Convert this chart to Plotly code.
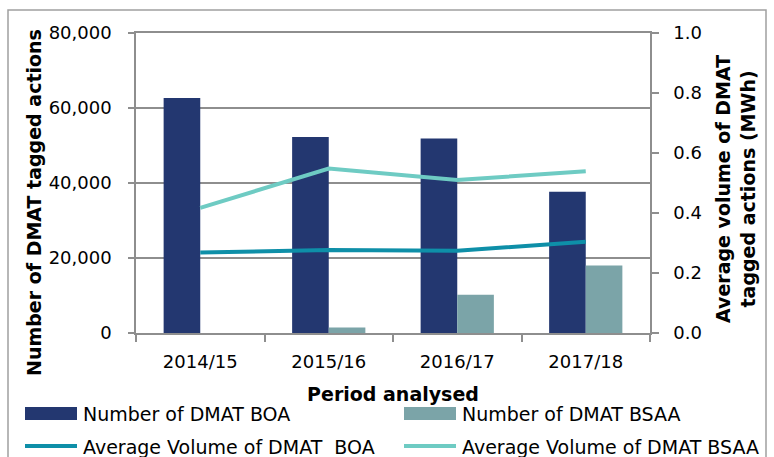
import plotly.graph_objects as go

# data
periods = ["2014/15", "2015/16", "2016/17", "2017/18"]
count_boa = [62700, 52300, 51900, 37700]
count_bsaa = [0, 1500, 10200, 18000]
avg_vol_boa = [0.268, 0.277, 0.274, 0.304]
avg_vol_bsaa = [0.417, 0.548, 0.510, 0.539]

legend_labels = ["Number of DMAT BOA", "Number of DMAT BSAA",
                 "Average Volume of DMAT  BOA", "Average Volume of DMAT BSAA"]

NAVY = "#233770"
GREY_TEAL = "#7BA4A8"
TEAL = "#0E8FA8"
AQUA = "#6ECBC3"
GRID = "#8E8E8E"
FONT = "DejaVu Sans"
FS = 19
TICK_FS = 18

W, H = 774, 457
L, R, T, B = 136, 124, 33, 124


def px_x(x):
    """pixel x -> paper x"""
    return (x - L) / (W - L - R)


def px_y(y):
    """pixel y (from top) -> paper y"""
    return (H - B - y) / (H - T - B)


fig = go.Figure()
fig.add_trace(go.Bar(x=periods, y=count_boa, name=legend_labels[0],
                     marker=dict(color=NAVY, line=dict(width=0))))
fig.add_trace(go.Bar(x=periods, y=count_bsaa, name=legend_labels[1],
                     marker=dict(color=GREY_TEAL, line=dict(width=0))))
fig.add_trace(go.Scatter(x=periods, y=avg_vol_boa, name=legend_labels[2], yaxis="y2",
                         mode="lines", line=dict(color=TEAL, width=4)))
fig.add_trace(go.Scatter(x=periods, y=avg_vol_bsaa, name=legend_labels[3], yaxis="y2",
                         mode="lines", line=dict(color=AQUA, width=4)))

# hand-made legend so the swatches look like the original
shapes = [
    # outer frame
    dict(type="rect", xref="paper", yref="paper",
         x0=px_x(8), x1=px_x(766), y0=px_y(480), y1=px_y(10),
         line=dict(color="#A0A0A0", width=1.5), fillcolor="rgba(0,0,0,0)", layer="below"),
    dict(type="rect", xref="paper", yref="paper",
         x0=px_x(25), x1=px_x(77), y0=px_y(420), y1=px_y(407),
         line=dict(width=0), fillcolor=NAVY),
    dict(type="rect", xref="paper", yref="paper",
         x0=px_x(404), x1=px_x(456), y0=px_y(420), y1=px_y(407),
         line=dict(width=0), fillcolor=GREY_TEAL),
    dict(type="line", xref="paper", yref="paper",
         x0=px_x(25), x1=px_x(77), y0=px_y(446), y1=px_y(446),
         line=dict(color=TEAL, width=4)),
    dict(type="line", xref="paper", yref="paper",
         x0=px_x(404), x1=px_x(456), y0=px_y(446), y1=px_y(446),
         line=dict(color=AQUA, width=4)),
]

annotations = []
for label, (x, y) in zip(legend_labels, [(81, 414), (460, 414), (81, 447), (460, 447)]):
    annotations.append(dict(text=label, xref="paper", yref="paper",
                            x=px_x(x), y=px_y(y), xanchor="left", yanchor="middle",
                            showarrow=False, font=dict(size=FS, color="black")))

# axis titles as annotations, the original centres them on the whole chart
annotations.append(dict(text="<b>Number of DMAT tagged actions</b>", textangle=-90,
                        xref="paper", yref="paper", x=px_x(34), y=px_y(203),
                        xanchor="center", yanchor="middle", showarrow=False,
                        font=dict(size=FS, color="black")))
annotations.append(dict(text="<b>Average volume of DMAT<br>tagged actions (MWh)</b>",
                        textangle=-90, xref="paper", yref="paper",
                        x=px_x(735), y=px_y(189),
                        xanchor="center", yanchor="middle", showarrow=False,
                        font=dict(size=FS, color="black")))

fig.update_layout(
    width=W, height=H,
    margin=dict(l=L, r=R, t=T, b=B, pad=0),
    paper_bgcolor="white", plot_bgcolor="white",
    font=dict(family=FONT, size=FS, color="black"),
    barmode="group", bargap=0.43, bargroupgap=0,
    showlegend=False,
    shapes=shapes, annotations=annotations,
    xaxis=dict(
        type="category", tickson="boundaries", tickfont=dict(size=TICK_FS),
        ticks="outside", ticklen=7, tickcolor=GRID, tickwidth=1.5,
        ticklabelstandoff=12,
        showline=True, linecolor=GRID, linewidth=1.5, mirror=True,
        showgrid=False,
        title=dict(text="<b>Period analysed</b>", standoff=16, font=dict(size=FS)),
    ),
    yaxis=dict(
        range=[0, 80000], dtick=20000, tickformat=",d", tickfont=dict(size=TICK_FS),
        ticks="outside", ticklen=6, tickcolor=GRID, tickwidth=1.5,
        ticklabelstandoff=13,
        showline=True, linecolor=GRID, linewidth=1.5,
        showgrid=True, gridcolor=GRID, gridwidth=1.5, zeroline=False,
    ),
    yaxis2=dict(
        overlaying="y", side="right",
        range=[0, 1.0], dtick=0.2, tickformat=".1f", tickfont=dict(size=TICK_FS),
        ticks="outside", ticklen=7, tickcolor=GRID, tickwidth=1.5,
        ticklabelstandoff=11,
        showline=True, linecolor=GRID, linewidth=1.5,
        showgrid=False, zeroline=False,
    ),
)

# the page keeps the browser's default 8px body margin otherwise
fig.write_html("out.html", config={"displayModeBar": False},
               post_script="document.body.style.margin = '0';")
